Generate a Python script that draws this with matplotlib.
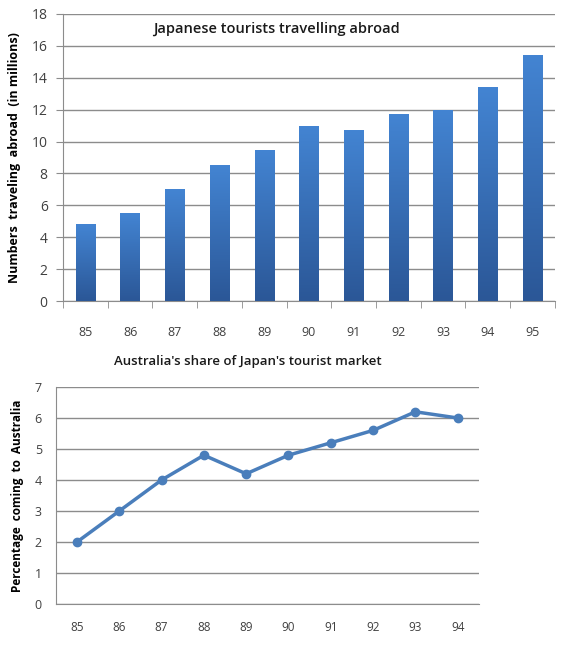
import numpy as np
import matplotlib.pyplot as plt
from matplotlib.colors import LinearSegmentedColormap

# data
years_bar = ["85", "86", "87", "88", "89", "90", "91", "92", "93", "94", "95"]
tourists = [4.8, 5.5, 7.0, 8.5, 9.5, 11.0, 10.7, 11.7, 12.0, 13.4, 15.4]

years_line = ["85", "86", "87", "88", "89", "90", "91", "92", "93", "94"]
share = [2.0, 3.0, 4.0, 4.8, 4.2, 4.8, 5.2, 5.6, 6.2, 6.0]

plt.rcParams['font.family'] = ['Open Sans', 'DejaVu Sans']
grid_col = "#8c8c8c"
tick_col = "#404040"

fig = plt.figure(figsize=(5.64, 6.45), dpi=100)

# ---- top: bar chart ----
ax1 = fig.add_axes([0.1117, 0.5333, 0.872, 0.445])
x = np.arange(len(years_bar))
bars = ax1.bar(x, tourists, width=0.43, color="none", zorder=3)
grad = LinearSegmentedColormap.from_list("bluegrad", ["#2b5797", "#4384d2"])
for b in bars:
    x0, y0 = b.get_x(), b.get_y()
    im = ax1.imshow(np.linspace(0, 1, 100).reshape(-1, 1), cmap=grad, aspect="auto",
                    origin="lower", extent=[x0, x0 + b.get_width(), y0, y0 + b.get_height()],
                    zorder=3)
    im.set_clip_path(b)

ax1.set_xlim(-0.5, len(years_bar) - 0.5)
ax1.set_ylim(0, 18)
ax1.set_yticks(range(0, 19, 2))
ax1.set_xticks(x)
ax1.set_xticklabels(years_bar)
ax1.set_xticks(np.arange(-0.5, len(years_bar), 1), minor=True)
ax1.tick_params(axis="x", which="major", length=0, pad=18, labelsize=9, colors=tick_col)
ax1.tick_params(axis="x", which="minor", length=5, direction="out", color=grid_col)
ax1.tick_params(axis="y", length=5, direction="out", color=grid_col, labelsize=10,
                labelcolor=tick_col, pad=6)
ax1.yaxis.grid(True, color=grid_col, linewidth=1, zorder=0)
ax1.set_axisbelow(True)
for s in ["top", "right"]:
    ax1.spines[s].set_visible(False)
for s in ["left", "bottom"]:
    ax1.spines[s].set_color(grid_col)
ax1.set_ylabel("Numbers  traveling  abroad  (in millions)", fontsize=9,
               fontweight="bold", labelpad=8)
ax1.text(0.433, 0.948, "Japanese tourists travelling abroad", transform=ax1.transAxes,
         ha="center", va="center", fontsize=10.5, fontweight="semibold", color="#1a1a1a")

# ---- bottom: line chart ----
ax2 = fig.add_axes([0.099, 0.0636, 0.75, 0.3364])
xl = np.arange(len(years_line))
ax2.plot(xl, share, color="#4a7ebb", linewidth=2.5, marker="o", markersize=6, zorder=3)
ax2.set_xlim(-0.5, len(years_line) - 0.5)
ax2.set_ylim(0, 7)
ax2.set_yticks(range(0, 8))
ax2.set_xticks(xl)
ax2.set_xticklabels(years_line)
ax2.tick_params(axis="x", length=0, pad=12, labelsize=8.5, colors=tick_col)
ax2.tick_params(axis="y", length=0, pad=10, labelsize=9, labelcolor=tick_col)
ax2.yaxis.grid(True, color=grid_col, linewidth=1, zorder=0)
ax2.set_axisbelow(True)
for s in ["top", "right"]:
    ax2.spines[s].set_visible(False)
for s in ["left", "bottom"]:
    ax2.spines[s].set_color(grid_col)
ax2.set_ylabel("Percentage  coming  to  Australia", fontsize=8.5, fontweight="bold",
               labelpad=8)
ax2.set_title("Australia's share of Japan's tourist market", fontsize=9.5,
              fontweight="semibold", color="#1a1a1a", pad=16, x=0.455)

fig.savefig("out.png", dpi=100)
